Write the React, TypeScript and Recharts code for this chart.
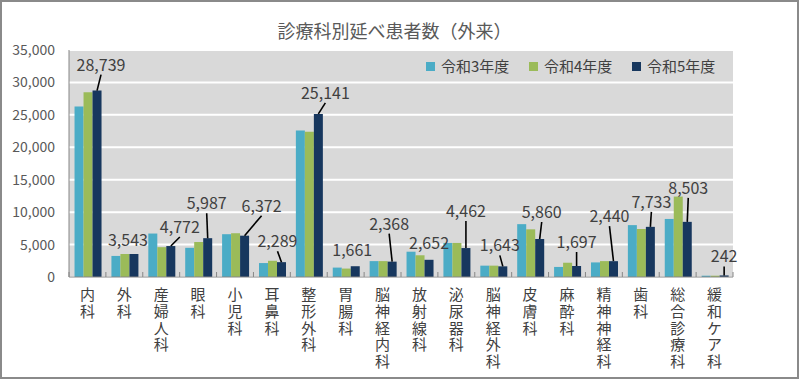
import { BarChart, Bar, XAxis, YAxis, CartesianGrid, Legend, LabelList } from 'recharts';

const departments = [
  '内科', '外科', '産婦人科', '眼科', '小児科', '耳鼻科', '整形外科', '胃腸科', '脳神経内科',
  '放射線科', '泌尿器科', '脳神経外科', '皮膚科', '麻酔科', '精神神経科', '歯科', '総合診療科', '緩和ケア科',
];
const reiwa3 = [26300, 3250, 6700, 4500, 6600, 2150, 22600, 1450, 2450, 3900, 5250, 1750, 8150, 1550, 2250, 8000, 8950, 200];
const reiwa4 = [28500, 3550, 4600, 5400, 6750, 2500, 22400, 1300, 2450, 3350, 5250, 1750, 7350, 2200, 2450, 7400, 12400, 200];
const reiwa5 = [28739, 3543, 4772, 5987, 6372, 2289, 25141, 1661, 2368, 2652, 4462, 1643, 5860, 1697, 2440, 7733, 8503, 242];
const seriesNames = ['令和3年度', '令和4年度', '令和5年度'];
const yTicks = [0, 5000, 10000, 15000, 20000, 25000, 30000, 35000];

const colors = ['#4BACC6', '#9BBB59', '#17375E'];

// label placement for the 令和5年度 values: [dx, dy, leader line]
const labelOffsets: [number, number, boolean][] = [
  [4, -27, true], [-6, -15, false], [9, -20, true], [-1, -36, true], [17, -31, true], [-4, -22, true],
  [7, -22, true], [-3, -17, false], [-3, -39, true], [0, -18, false], [0, -38, true], [-3, -22, true],
  [2, -28, true], [0, -25, true], [-4, -46, true], [1, -26, true], [1, -35, true], [0, -20, true],
];

const data = departments.map((name, i) => ({
  name,
  r3: reiwa3[i],
  r4: reiwa4[i],
  r5: reiwa5[i],
}));

const FONT = "'Noto Sans CJK JP', 'Noto Sans', sans-serif";
const BAND = 664 / departments.length;

function DeptTick(props: any) {
  const { x, y, payload } = props;
  const index = props.index ?? payload.index;
  return (
    <g>
      <line x1={x - BAND / 2} x2={x - BAND / 2} y1={y} y2={y - 5} stroke="#868686" />
      {index === departments.length - 1 && (
        <line x1={x + BAND / 2} x2={x + BAND / 2} y1={y} y2={y - 5} stroke="#868686" />
      )}
      {/* vertical label */}
      <text
        x={x}
        y={y + 10}
        fill="#404040"
        fontSize={15}
        fontFamily={FONT}
        style={{ writingMode: 'vertical-rl', textOrientation: 'upright', letterSpacing: 1.7 }}
      >
        {payload.value}
      </text>
    </g>
  );
}

function ValueLabel(props: any) {
  const { x, y, width, value, index } = props;
  const [dx, dy, leader] = labelOffsets[index];
  const cx = x + width / 2;
  const lx = cx + dx;
  const ly = y + dy;
  return (
    <g>
      {leader && <line x1={cx} y1={y} x2={lx} y2={ly + 11} stroke="#000" strokeWidth={1.6} />}
      <text x={lx} y={ly} textAnchor="middle" dominantBaseline="central" fill="#404040" fontSize={16} fontFamily={FONT}>
        {Number(value).toLocaleString('en-US')}
      </text>
    </g>
  );
}

function LegendContent() {
  return (
    <div style={{ display: 'flex', fontFamily: FONT, fontSize: 15, color: '#404040', lineHeight: '20px' }}>
      {seriesNames.map((n, i) => (
        <div key={n} style={{ display: 'flex', alignItems: 'center', width: 103 }}>
          <span style={{ width: 9, height: 9, background: colors[i], marginRight: 6, display: 'inline-block' }} />
          <span>{n}</span>
        </div>
      ))}
    </div>
  );
}

export default function App() {
  return (
    <div
      style={{
        position: 'absolute',
        left: 0,
        top: 0,
        width: 799,
        height: 379,
        border: '2px solid #8a8a8a',
        boxSizing: 'border-box',
        background: '#fff',
        fontFamily: FONT,
      }}
    >
      <div
        style={{
          position: 'absolute',
          left: 392.5,
          top: 17,
          transform: 'translateX(-50%)',
          whiteSpace: 'nowrap',
          fontSize: 18,
          lineHeight: '22px',
          color: '#595959',
        }}
      >
        診療科別延べ患者数（外来）
      </div>
      <BarChart
        width={795}
        height={375}
        data={data}
        margin={{ top: 48, right: 64, bottom: 0, left: 0 }}
        barCategoryGap="15%"
        barGap={0}
      >
        <CartesianGrid vertical={false} stroke="#fff" strokeWidth={2} fill="#D9D9D9" />
        <XAxis
          dataKey="name"
          interval={0}
          height={100}
          tickSize={0}
          tickMargin={0}
          tickLine={false}
          axisLine={{ stroke: '#868686', strokeWidth: 1 }}
          tick={(p: any) => <DeptTick {...p} />}
        />
        <YAxis
          domain={[0, 35000]}
          ticks={yTicks}
          width={67}
          tickSize={0}
          tickMargin={14}
          tickLine={false}
          axisLine={{ stroke: '#868686', strokeWidth: 1 }}
          tick={{ fill: '#595959', fontSize: 14, fontFamily: FONT }}
          tickFormatter={(v: number) => v.toLocaleString('en-US')}
        />
        <Legend
          layout="vertical"
          align="center"
          verticalAlign="middle"
          wrapperStyle={{ top: 54, left: 424, width: 'auto' }}
          content={() => <LegendContent />}
        />
        <Bar dataKey="r3" name={seriesNames[0]} fill={colors[0]} isAnimationActive={false} />
        <Bar dataKey="r4" name={seriesNames[1]} fill={colors[1]} isAnimationActive={false} />
        <Bar dataKey="r5" name={seriesNames[2]} fill={colors[2]} isAnimationActive={false}>
          <LabelList dataKey="r5" content={(p: any) => <ValueLabel {...p} />} />
        </Bar>
      </BarChart>
    </div>
  );
}
